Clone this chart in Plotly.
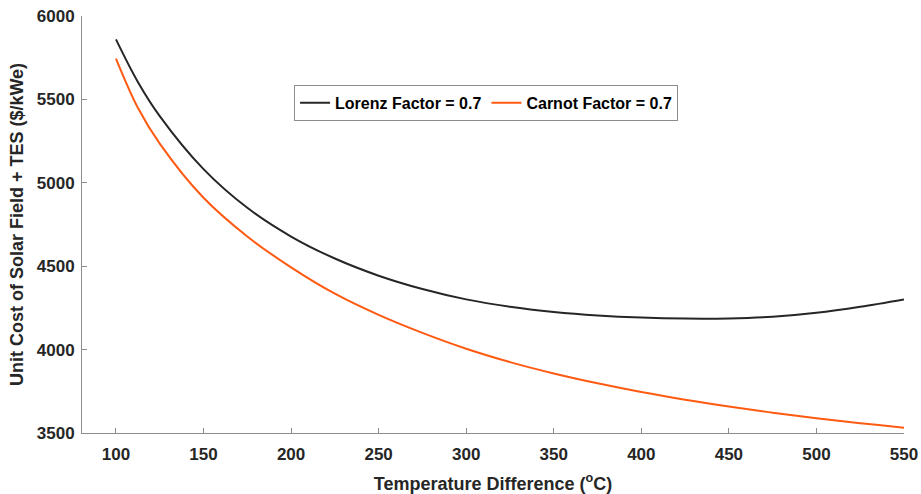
import plotly.graph_objects as go

temp_diff = [100, 112.5, 125, 150, 175, 200, 225, 250, 275, 300, 325, 350, 375, 400, 425, 450, 475, 500, 525, 550]
lorenz_cost = [5860, 5605, 5400, 5082, 4850, 4678, 4546, 4443, 4363, 4301, 4257, 4226, 4205, 4192, 4186, 4187, 4197, 4221, 4257, 4301]
carnot_cost = [5745, 5450, 5235, 4910, 4678, 4493, 4335, 4208, 4100, 4005, 3925, 3857, 3798, 3746, 3700, 3659, 3622, 3588, 3558, 3532]

x_ticks = [100, 150, 200, 250, 300, 350, 400, 450, 500, 550]
y_ticks = [3500, 4000, 4500, 5000, 5500, 6000]

FONT = "Liberation Sans, Arial, Helvetica"

fig = go.Figure()
fig.add_trace(go.Scatter(x=temp_diff, y=lorenz_cost, mode="lines", name="Lorenz Factor = 0.7",
                         line=dict(color="#262626", width=2, shape="spline", smoothing=1.0)))
fig.add_trace(go.Scatter(x=temp_diff, y=carnot_cost, mode="lines", name="Carnot Factor = 0.7",
                         line=dict(color="#FF5A12", width=2, shape="spline", smoothing=1.0)))

axis_common = dict(showgrid=False, zeroline=False, showline=True, linecolor="#8c8c8c", linewidth=1,
                   ticks="inside", ticklen=5, tickcolor="#8c8c8c", mirror=False, automargin=False,
                   tickfont=dict(size=17, color="#262626", family=FONT, weight="bold"))

fig.update_layout(
    width=921, height=494,
    margin=dict(l=82, r=17, t=16, b=61),
    paper_bgcolor="white", plot_bgcolor="white",
    font=dict(family=FONT, color="#262626", weight="bold"),
    xaxis=dict(range=[80.6, 550], tickvals=x_ticks, ticklabelstandoff=6, **axis_common,
               title=dict(text="Temperature Difference (<sup>o</sup>C)", standoff=14,
                          font=dict(size=18, color="#262626", family=FONT, weight="bold"))),
    yaxis=dict(range=[3500, 6000], tickvals=y_ticks, ticklabelstandoff=3, **axis_common,
               title=dict(text="Unit Cost of Solar Field + TES ($/kWe)", standoff=8,
                          font=dict(size=18, color="#262626", family=FONT, weight="bold"))),
    legend=dict(orientation="h", x=0.258, y=0.835, xanchor="left", yanchor="top",
                bordercolor="#8c8c8c", borderwidth=1, bgcolor="white",
                font=dict(size=16, color="#000000", family=FONT, weight="bold"),
                itemwidth=30, tracegroupgap=0),
    showlegend=True,
)

fig.write_html("out.html")
